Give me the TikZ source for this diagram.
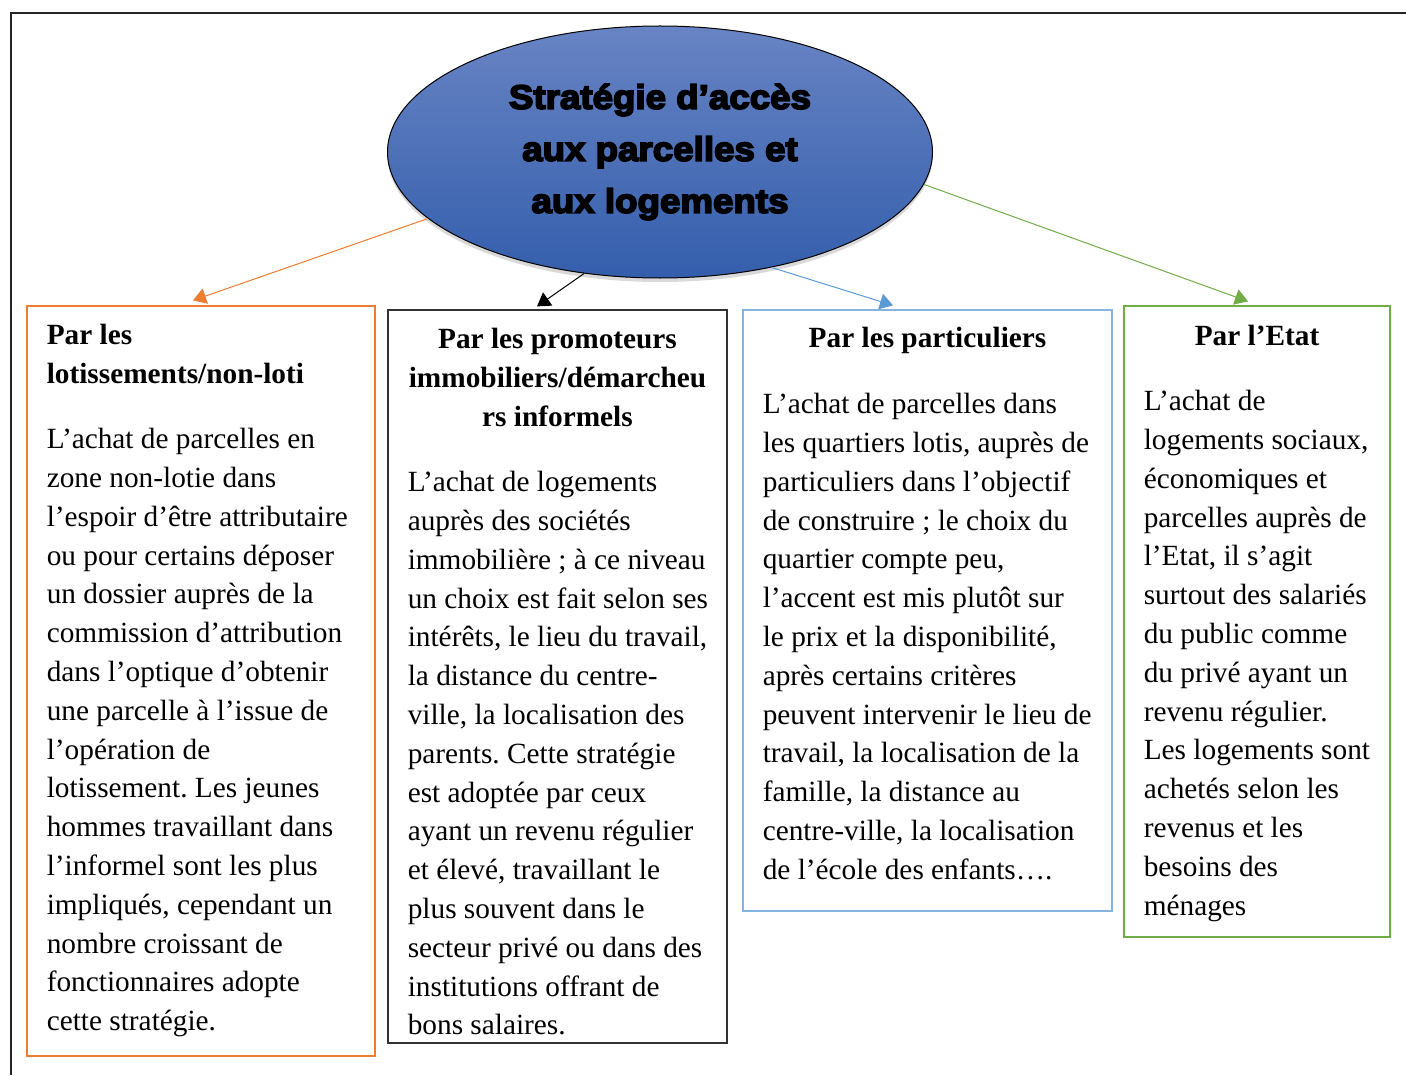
\documentclass[tikz,border=0pt]{standalone}
\usepackage{fontspec}
\setmainfont{Liberation Serif}
\newfontfamily\titlefont{Liberation Sans}[BoldFeatures={FakeBold=5,FakeStretch=1.08}]
\usetikzlibrary{arrows.meta,positioning,calc,shapes.geometric,shadows}
\frenchspacing

\definecolor{accorange}{HTML}{ED7D31}
\definecolor{accblue}{HTML}{5B9BD5}
\definecolor{accgreen}{HTML}{70AD47}
\definecolor{ovaltop}{RGB}{104,132,196}
\definecolor{ovalbot}{RGB}{52,94,172}

\begin{document}
\begin{tikzpicture}[
    x=0.5pt, y=-0.5pt,
    txt/.style={inner sep=0pt, font=\fontsize{14.65pt}{19.4pt}\selectfont},
    head/.style={txt, font=\fontsize{14.65pt}{19.4pt}\selectfont\bfseries},
    body/.style={txt, align=left},
    strat/.style={ellipse, draw=black, line width=0.5pt,
      top color=ovaltop, bottom color=ovalbot,
      minimum width=272.5pt, minimum height=126pt, inner sep=0pt, align=center,
      font=\titlefont\bfseries\fontsize{17pt}{26pt}\selectfont,
      drop shadow={shadow xshift=0pt, shadow yshift=-2pt, opacity=0.3}},
    grp/.style={rectangle, line width=0.6pt, inner sep=0pt},
    arr/.style={-{Triangle[length=6.5pt, width=8pt]}, line width=0.5pt}
  ]
    \useasboundingbox (0,0) rectangle (1406,1075);
    \draw[line width=1pt, black!85] (11,1075) -- (11,13) -- (1406,13);

    \node[strat] (strat) at (660,152) {Stratégie d’accès\\ aux parcelles et\\ aux logements};

    \node[grp, draw=accorange, minimum width=174pt, minimum height=375pt] (lot) at (201,681) {};
    \node[grp, draw=black!80, minimum width=169.5pt, minimum height=366.5pt] (promo) at (557.5,676.5) {};
    \node[grp, draw=accblue!75, minimum width=184.5pt, minimum height=300.5pt] (part) at (927.5,610.5) {};
    \node[grp, draw=accgreen, minimum width=133pt, minimum height=315.5pt] (etat) at (1257,621.5) {};

    % en-tetes
    \node[head, align=left, below right=5.9pt and 10pt of lot.north west] (lothead)
      {\strut Par les\\ lotissements/non-loti};
    \node[head, align=center, below=5.9pt of promo.north] (promohead)
      {\strut Par les promoteurs\\ immobiliers/démarcheu\\ rs informels};
    \node[head, align=center, below=5.4pt of part.north] (parthead)
      {\strut Par les particuliers};
    \node[head, align=center, below=6.4pt of etat.north] (etathead)
      {\strut Par l’Etat};

    % textes
    \node[body, below right=57.9pt and 10pt of lot.north west] (lottext)
      {\strut L’achat de parcelles en\\ zone non-lotie dans\\ l’espoir d’être attributaire\\
       ou pour certains déposer\\ un dossier auprès de la\\ commission d’attribution\\
       dans l’optique d’obtenir\\ une parcelle à l’issue de\\ l’opération de\\
       lotissement. Les jeunes\\ hommes travaillant dans\\ l’informel sont les plus\\
       impliqués, cependant un\\ nombre croissant de\\ fonctionnaires adopte\\ cette stratégie.};
    \node[body, below right=77.4pt and 10pt of promo.north west] (promotext)
      {\strut L’achat de logements\\ auprès des sociétés\\ immobilière ; à ce niveau\\
       un choix est fait selon ses\\ intérêts, le lieu du travail,\\ la distance du centre-\\
       ville, la localisation des\\ parents. Cette stratégie\\ est adoptée par ceux\\
       ayant un revenu régulier\\ et élevé, travaillant le\\ plus souvent dans le\\
       secteur privé ou dans des\\ institutions offrant de\\ bons salaires.};
    \node[body, below right=38.4pt and 10pt of part.north west] (parttext)
      {\strut L’achat de parcelles dans\\ les quartiers lotis, auprès de\\ particuliers dans l’objectif\\
       de construire ; le choix du\\ quartier compte peu,\\ l’accent est mis plutôt sur\\
       le prix et la disponibilité,\\ après certains critères\\ peuvent intervenir le lieu de\\
       travail, la localisation de la\\ famille, la distance au\\ centre-ville, la localisation\\
       de l’école des enfants….};
    \node[body, below right=38.9pt and 10pt of etat.north west] (etattext)
      {\strut L’achat de\\ logements sociaux,\\ économiques et\\ parcelles auprès de\\
       l’Etat, il s’agit\\ surtout des salariés\\ du public comme\\ du privé ayant un\\
       revenu régulier.\\ Les logements sont\\ achetés selon les\\ revenus et les\\
       besoins des\\ ménages};

    \draw[arr, accorange] (strat.196) -- ($(lot.north)+(-8,-5)$);
    \draw[arr, black] (strat.238) -- ($(promo.north)+(-20.5,-3)$);
    \draw[arr, accblue] (strat.314) -- ($(part.north)+(-34.5,-4)$);
    \draw[arr, accgreen] (strat.353) -- ($(etat.north)+(-9,-4)$);
  \end{tikzpicture}
\end{document}
